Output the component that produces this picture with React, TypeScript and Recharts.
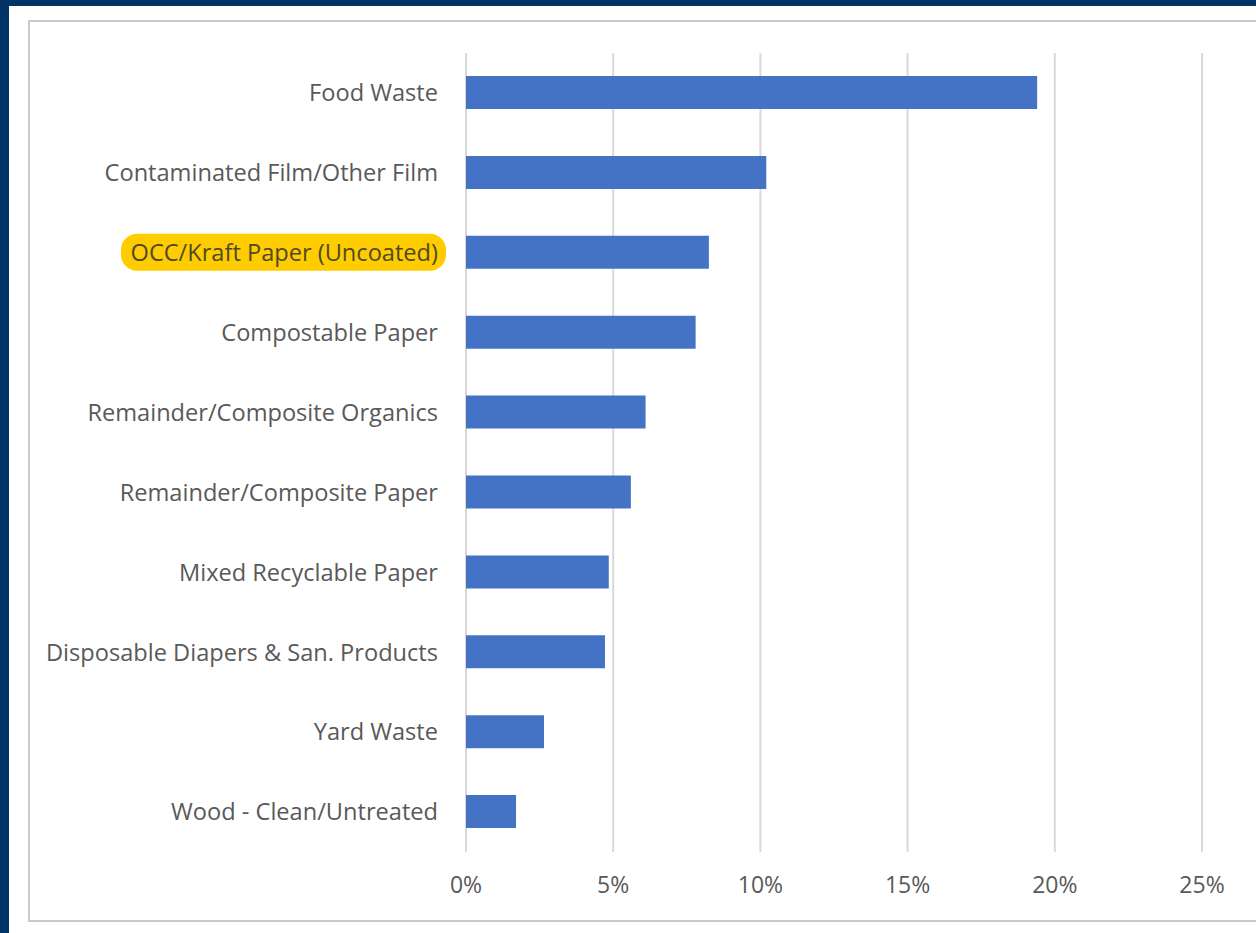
import { BarChart, Bar, XAxis, YAxis, CartesianGrid } from 'recharts';

const categories = [
  'Food Waste',
  'Contaminated Film/Other Film',
  'OCC/Kraft Paper (Uncoated)',
  'Compostable Paper',
  'Remainder/Composite Organics',
  'Remainder/Composite Paper',
  'Mixed Recyclable Paper',
  'Disposable Diapers & San. Products',
  'Yard Waste',
  'Wood - Clean/Untreated',
];

const shares = [19.4, 10.2, 8.25, 7.8, 6.1, 5.6, 4.85, 4.72, 2.65, 1.7];

const xTicks = [0, 5, 10, 15, 20, 25];
const boundaryTicks = [0, 1, 2, 3, 4, 5, 6, 7, 8, 9, 10];

const highlighted = 'OCC/Kraft Paper (Uncoated)';

const data = categories.map((name, i) => ({ name, value: shares[i] }));

const FONT = '"Open Sans", sans-serif';
const TEXT = '#595959';

function CategoryTick(props: any) {
  const { x, y, payload } = props;
  const isHi = payload.value === highlighted;
  return (
    <g>
      {isHi && (
        <rect x={x - 317} y={y - 19} width={325} height={37} rx={16} fill="#FFCC00" />
      )}
      <text
        x={x}
        y={y}
        dy="0.35em"
        textAnchor="end"
        fill={isHi ? '#4f4a26' : TEXT}
        fontFamily={FONT}
        fontSize={23.6}
      >
        {payload.value}
      </text>
    </g>
  );
}

export default function App() {
  return (
    <div
      style={{
        position: 'fixed',
        left: 0,
        top: 0,
        width: 1256,
        height: 933,
        background: '#003366',
        overflow: 'hidden',
      }}
    >
      <div
        style={{
          position: 'absolute',
          left: 9,
          top: 6,
          width: 1300,
          height: 1000,
          background: '#ffffff',
        }}
      />
      <div
        style={{
          position: 'absolute',
          left: 28,
          top: 20,
          width: 1300,
          height: 902,
          border: '2px solid #c9c9c9',
          boxSizing: 'border-box',
        }}
      />
      <div style={{ position: 'absolute', left: 0, top: 0 }}>
        <BarChart
          width={1256}
          height={933}
          data={data}
          layout="vertical"
          margin={{ top: 53, right: 54, bottom: 31, left: 0 }}
        >
          <CartesianGrid horizontal={false} stroke="#d9d9d9" strokeWidth={2} />
          <XAxis
            type="number"
            domain={[0, 25]}
            ticks={xTicks}
            tickFormatter={(v: number) => `${v}%`}
            axisLine={false}
            tickLine={false}
            tickSize={0}
            tickMargin={25}
            height={50}
            tick={{ fill: TEXT, fontFamily: FONT, fontSize: 23 }}
          />
          <YAxis
            type="category"
            dataKey="name"
            width={466}
            axisLine={false}
            tickLine={false}
            tickSize={0}
            tickMargin={28}
            interval={0}
            tick={<CategoryTick />}
          />
          <YAxis
            yAxisId="bounds"
            type="number"
            domain={[0, 10]}
            ticks={boundaryTicks}
            width={0}
            tick={false}
            tickSize={8}
            axisLine={{ stroke: '#d9d9d9', strokeWidth: 2 }}
            tickLine={{ stroke: '#d9d9d9', strokeWidth: 2 }}
          />
          <Bar dataKey="value" fill="#4472C4" barSize={33} isAnimationActive={false} />
        </BarChart>
      </div>
    </div>
  );
}
